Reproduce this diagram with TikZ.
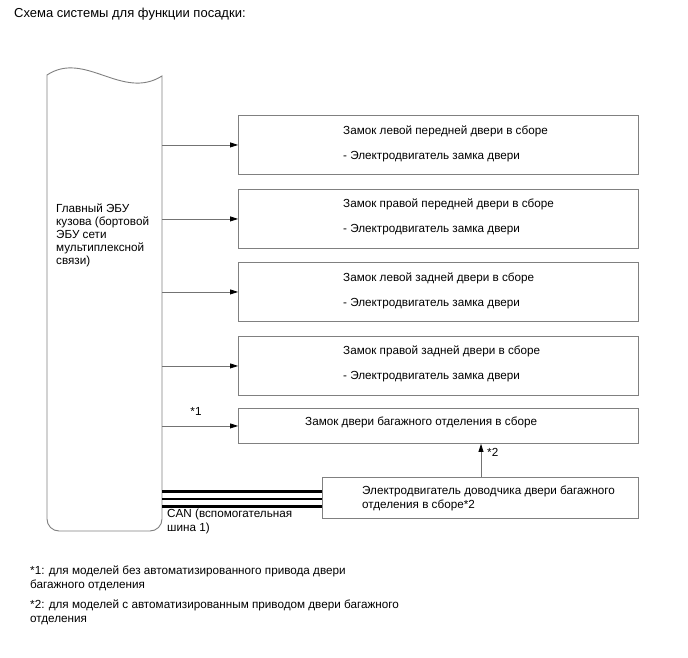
\documentclass[tikz,border=0pt]{standalone}
\usepackage{fontspec}
\setmainfont{Liberation Sans}
\usetikzlibrary{arrows.meta}
\begin{document}
\begin{tikzpicture}[x=1pt,y=-1pt,
  every node/.style={font=\fontsize{11.7}{14}\selectfont, inner sep=0pt},
  unitbox/.style={draw=black!50, line width=0.9pt, anchor=north west, minimum width=400pt},
  lbl/.style={anchor=west, align=left},
  conn/.style={draw=black!55, line width=0.8pt, -{Triangle[length=8pt,width=5pt,color=black]}},
  canbus/.style={draw=black, line cap=butt}
]
\useasboundingbox (0,0) rectangle (688,658);
\fill[white] (0,0) rectangle (688,658);

% title
\node[lbl, font=\fontsize{13}{15}\selectfont] (title) at (14,14) {Схема системы для функции посадки:};

% ECU shape
\draw[black!50, line width=0.9pt]
  (47,75) .. controls (85,50) and (122,101) .. (162,76)
  -- (162,519) arc[start angle=0, end angle=90, radius=12] -- (59,531)
  arc[start angle=90, end angle=180, radius=12] -- cycle;
\coordinate (ecuR) at (162,300);
\node[lbl, anchor=north west, font=\fontsize{11.7}{13}\selectfont] (ecu) at (56,204) {Главный ЭБУ\\кузова (бортовой\\ЭБУ сети\\мультиплексной\\связи)};

% boxes
\node[unitbox, minimum height=59pt] (b1) at (238,115) {};
\node[unitbox, minimum height=59pt] (b2) at (238,189) {};
\node[unitbox, minimum height=59pt] (b3) at (238,262) {};
\node[unitbox, minimum height=59pt] (b4) at (238,336) {};
\node[unitbox, minimum height=35pt] (b5) at (238,408) {};
\node[unitbox, minimum width=316pt, minimum height=41pt] (b6) at (322,477) {};

% box texts
\node[lbl] (t1a) at (343,131) {Замок левой передней двери в сборе};
\node[lbl] (t1b) at (343,157) {- Электродвигатель замка двери};
\node[lbl] (t2a) at (343,204) {Замок правой передней двери в сборе};
\node[lbl] (t2b) at (343,230) {- Электродвигатель замка двери};
\node[lbl] (t3a) at (343,278) {Замок левой задней двери в сборе};
\node[lbl] (t3b) at (343,304) {- Электродвигатель замка двери};
\node[lbl] (t4a) at (343,351) {Замок правой задней двери в сборе};
\node[lbl] (t4b) at (343,377) {- Электродвигатель замка двери};
\node[lbl] (t5) at (305,422) {Замок двери багажного отделения в сборе};
\node[lbl] (t6) at (362,498) {Электродвигатель доводчика двери багажного\\отделения в сборе*2};

% connectors
\draw[conn] (b1.west -| ecuR) -- (b1.west);
\draw[conn] (b2.west -| ecuR) -- (b2.west);
\draw[conn] (b3.west -| ecuR) -- (b3.west);
\draw[conn] (b4.west -| ecuR) -- (b4.west);
\draw[conn] (b5.west -| ecuR) -- (b5.west);
\node (s1) at (196,411) {*1};

\coordinate (up) at (481,0);
\draw[conn] (b6.north -| up) -- (b5.south -| up);
\node[lbl] (s2) at (487,452) {*2};

% CAN bus
\coordinate (c1) at (162,491.5);
\coordinate (c2) at (162,499);
\coordinate (c3) at (162,506.5);
\draw[canbus, line width=3pt] (c1) -- (c1 -| b6.west);
\draw[canbus, line width=1.4pt] (c2) -- (c2 -| b6.west);
\draw[canbus, line width=3pt] (c3) -- (c3 -| b6.west);
\node[lbl, anchor=north west] (can) at (167,509) {CAN (вспомогательная\\шина 1)};

% footnotes
\node[lbl, anchor=north west] (n1) at (30,566) {*1: для моделей без автоматизированного привода двери\\багажного отделения};
\node[lbl, anchor=north west] (n2) at (30,600) {*2: для моделей с автоматизированным приводом двери багажного\\отделения};
\end{tikzpicture}
\end{document}
